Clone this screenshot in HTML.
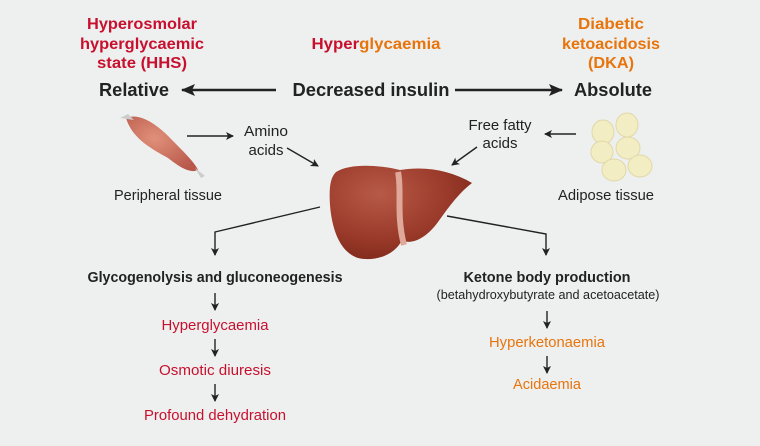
<!DOCTYPE html>
<html><head><style>
html,body{margin:0;padding:0;background:#eef0f0}
svg{display:block}
text{font-family:"Liberation Sans",Arial,sans-serif}
</style></head><body>
<svg width="760" height="446" viewBox="0 0 760 446" xmlns="http://www.w3.org/2000/svg">
<defs>
<marker id="a" markerWidth="8" markerHeight="8" refX="7" refY="4" orient="auto" markerUnits="userSpaceOnUse"><path d="M0,0 L8,4 L0,8 L2,4 Z" fill="#222"/></marker>
<marker id="b" markerWidth="14" markerHeight="12" refX="13" refY="6" orient="auto" markerUnits="userSpaceOnUse"><path d="M0,0 L14,6 L0,12 L3,6 Z" fill="#222"/></marker>
<radialGradient id="lv" cx="0.35" cy="0.3" r="0.8"><stop offset="0" stop-color="#b85a48"/><stop offset="0.6" stop-color="#9a3a2a"/><stop offset="1" stop-color="#7a2618"/></radialGradient>
<radialGradient id="mu" cx="0.4" cy="0.4" r="0.7"><stop offset="0" stop-color="#e0907a"/><stop offset="1" stop-color="#b8584a"/></radialGradient>
</defs>
<rect width="760" height="446" fill="#eef0f0"/>
<g font-weight="bold" font-size="16" text-anchor="middle">
<text x="142" y="29" fill="#c8102e" textLength="110" lengthAdjust="spacingAndGlyphs">Hyperosmolar</text>
<text x="142" y="49" fill="#c8102e" textLength="124" lengthAdjust="spacingAndGlyphs">hyperglycaemic</text>
<text x="142" y="68" fill="#c8102e" textLength="90" lengthAdjust="spacingAndGlyphs">state (HHS)</text>
<text x="376" y="49" textLength="129" lengthAdjust="spacingAndGlyphs"><tspan fill="#c8102e">Hyper</tspan><tspan fill="#e8740c">glycaemia</tspan></text>
<text x="611" y="29" fill="#e8740c" textLength="66" lengthAdjust="spacingAndGlyphs">Diabetic</text>
<text x="611" y="49" fill="#e8740c" textLength="98" lengthAdjust="spacingAndGlyphs">ketoacidosis</text>
<text x="611" y="68" fill="#e8740c" textLength="46" lengthAdjust="spacingAndGlyphs">(DKA)</text>
<g font-size="18" fill="#222">
<text x="134" y="96" textLength="70" lengthAdjust="spacingAndGlyphs">Relative</text>
<text x="371" y="96" textLength="157" lengthAdjust="spacingAndGlyphs">Decreased insulin</text>
<text x="613" y="96" textLength="78" lengthAdjust="spacingAndGlyphs">Absolute</text>
</g>
</g>
<g stroke="#222" stroke-width="2.5" fill="none">
<line x1="276" y1="90" x2="182" y2="90" marker-end="url(#b)"/>
<line x1="455" y1="90" x2="562" y2="90" marker-end="url(#b)"/>
</g>
<g stroke="#222" stroke-width="1.4" fill="none">
<line x1="187" y1="136" x2="233" y2="136" marker-end="url(#a)"/>
<line x1="287" y1="148" x2="318" y2="166" marker-end="url(#a)"/>
<line x1="576" y1="134" x2="545" y2="134" marker-end="url(#a)"/>
<line x1="477" y1="147" x2="452" y2="165" marker-end="url(#a)"/>
<polyline points="320,207 215,232 215,255" marker-end="url(#a)"/>
<polyline points="447,216 546,234 546,255" marker-end="url(#a)"/>
<line x1="215" y1="293" x2="215" y2="310" marker-end="url(#a)"/>
<line x1="215" y1="339" x2="215" y2="356" marker-end="url(#a)"/>
<line x1="215" y1="384" x2="215" y2="401" marker-end="url(#a)"/>
<line x1="547" y1="311" x2="547" y2="328" marker-end="url(#a)"/>
<line x1="547" y1="356" x2="547" y2="373" marker-end="url(#a)"/>
</g>
<path d="M126,118 C140,112 158,125 172,140 C185,153 195,163 198,170 C190,174 178,166 168,158 C150,148 132,138 126,118 Z" fill="url(#mu)"/>
<path d="M120,118 l8,-4 l6,6 Z M195,168 l10,8 l-4,2 Z" fill="#ccc"/>
<g fill="#f3edc4" stroke="#e0d8a8" stroke-width="1">
<ellipse cx="603" cy="132" rx="11" ry="12"/><ellipse cx="627" cy="125" rx="11" ry="12"/>
<ellipse cx="602" cy="152" rx="11" ry="11"/><ellipse cx="628" cy="148" rx="12" ry="11"/>
<ellipse cx="614" cy="170" rx="12" ry="11"/><ellipse cx="640" cy="166" rx="12" ry="11"/>
</g>
<path d="M336,172 C350,163 380,165 400,170 C425,166 450,170 472,183 C460,192 450,205 438,222 C425,240 410,245 402,240 C395,255 375,262 358,258 C340,252 332,230 330,205 C329,188 330,178 336,172 Z" fill="url(#lv)"/>
<path d="M398,172 C402,190 396,215 404,245" stroke="#e0a898" stroke-width="6" fill="none"/>
<g font-size="14.5" fill="#222" text-anchor="middle">
<text x="266" y="136" textLength="44" lengthAdjust="spacingAndGlyphs">Amino</text><text x="266" y="155" textLength="35" lengthAdjust="spacingAndGlyphs">acids</text>
<text x="500" y="130" textLength="63" lengthAdjust="spacingAndGlyphs">Free fatty</text><text x="500" y="148" textLength="35" lengthAdjust="spacingAndGlyphs">acids</text>
<text x="168" y="200" textLength="108" lengthAdjust="spacingAndGlyphs">Peripheral tissue</text>
<text x="606" y="200" textLength="96" lengthAdjust="spacingAndGlyphs">Adipose tissue</text>
<text x="215" y="282" font-weight="bold" textLength="255" lengthAdjust="spacingAndGlyphs">Glycogenolysis and gluconeogenesis</text>
<text x="547" y="282" font-weight="bold" textLength="167" lengthAdjust="spacingAndGlyphs">Ketone body production</text>
<text x="548" y="299" font-size="12.5" textLength="223" lengthAdjust="spacingAndGlyphs">(betahydroxybutyrate and acetoacetate)</text>
<text x="215" y="330" fill="#c8102e" textLength="107" lengthAdjust="spacingAndGlyphs">Hyperglycaemia</text>
<text x="215" y="375" fill="#c8102e" textLength="112" lengthAdjust="spacingAndGlyphs">Osmotic diuresis</text>
<text x="215" y="420" fill="#c8102e" textLength="142" lengthAdjust="spacingAndGlyphs">Profound dehydration</text>
<text x="547" y="347" fill="#e8740c" textLength="116" lengthAdjust="spacingAndGlyphs">Hyperketonaemia</text>
<text x="547" y="389" fill="#e8740c" textLength="68" lengthAdjust="spacingAndGlyphs">Acidaemia</text>
</g>
</svg>
</body></html>
